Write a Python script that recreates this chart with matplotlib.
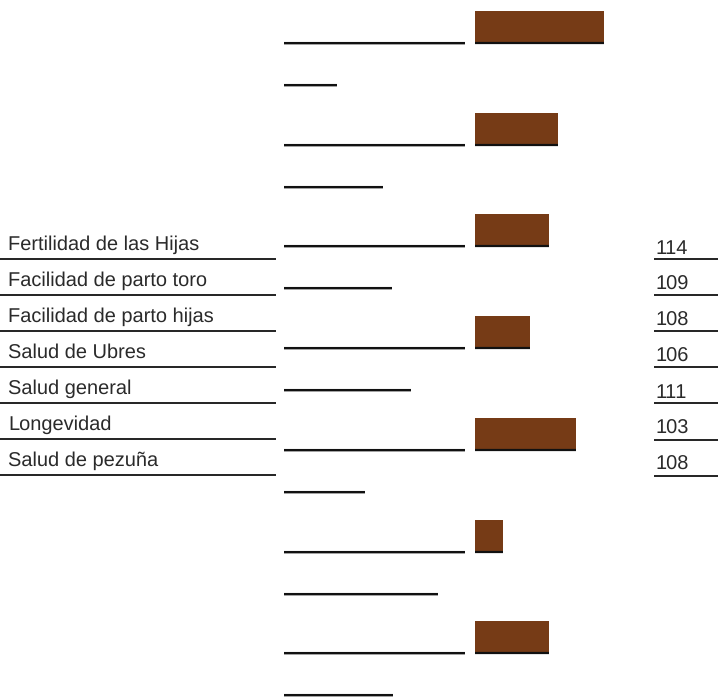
import matplotlib.pyplot as plt
import numpy as np

plt.rcParams['font.family'] = ['Liberation Sans', 'DejaVu Sans']
plt.rcParams['text.hinting'] = 'no_hinting'
plt.rcParams['text.hinting_factor'] = 1

traits = ["Fertilidad de las Hijas", "Facilidad de parto toro",
          "Facilidad de parto hijas", "Salud de Ubres", "Salud general",
          "Longevidad", "Salud de pezuña"]
values = [114, 109, 108, 106, 111, 103, 108]
# lengths of the short rules under each bar row (px)
short_len = [53, 99, 108, 127, 81, 154, 109]

BROWN = "#763b16"
W, H = 718, 700

fig = plt.figure(figsize=(W / 100, H / 100), dpi=100)
ax = fig.add_axes([0, 0, 1, 1])
ax.set_xlim(0, W)
ax.set_ylim(H, 0)
ax.axis("off")

# bar panel: starts at x=475, value scale ~9.2 px per point above 100
bx0 = 475
scale = 9.2
bax = fig.add_axes([bx0 / W, 0, (W - bx0) / W, 1])
bax.set_xlim(100, 100 + (W - bx0) / scale)
bax.set_ylim(H, 0)
bax.axis("off")

row_y = 43 + 101.7 * np.arange(len(values))
bax.barh(row_y - 16, np.array(values) - 100, left=100, height=32,
         color=BROWN, edgecolor="none")
bax.hlines(row_y, 100, np.array(values), color="#111111", lw=1.6)

# middle rules
ax.hlines(row_y + 1, 284, 465, color="#999999", lw=1.2)
ax.hlines(row_y, 284, 465, color="#111111", lw=1.5)
ax.hlines(row_y + 43, 284, 284 + np.array(short_len), color="#999999", lw=1.2)
ax.hlines(row_y + 42, 284, 284 + np.array(short_len), color="#111111", lw=1.5)

# left labels and right numbers
line_y = 258.5 + 36.1 * np.arange(len(traits))
for i, (t, v) in enumerate(zip(traits, values)):
    ax.text(8, line_y[i] - 9, t, fontsize=14.6, color="#2a2a2a",
            va="baseline", ha="left")
    ax.text(655, line_y[i] - 5, str(v), fontsize=14.6, color="#2a2a2a",
            va="baseline", ha="left")
ax.hlines(line_y, 0, 276, color="#222222", lw=1.4)
ax.hlines(line_y + 0.5, 654, W, color="#222222", lw=1.4)

fig.savefig("out.png", dpi=100)
